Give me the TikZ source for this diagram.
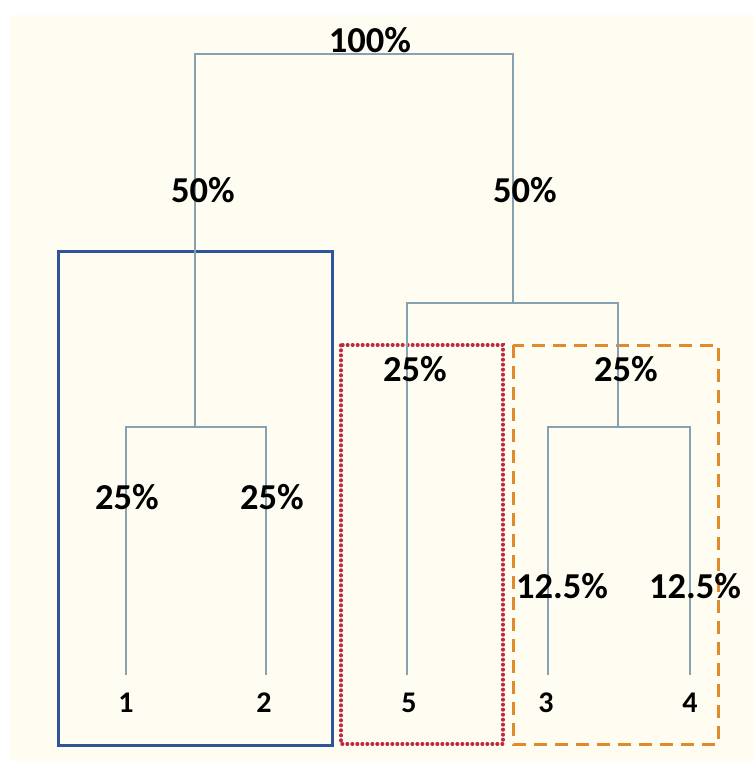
\documentclass[tikz,border=0pt]{standalone}
\usepackage{fontspec}
\setmainfont{Carlito}
\definecolor{bgcream}{HTML}{FFFDF2}
\definecolor{treeline}{HTML}{86A2B0}
\definecolor{boxblue}{HTML}{2E5597}
\definecolor{boxred}{HTML}{C0283C}
\definecolor{boxorange}{HTML}{E08A2C}
\begin{document}
\begin{tikzpicture}[x=1pt,y=-1pt,
  branch/.style={draw=treeline,line width=2pt},
  pct/.style={font=\bfseries\fontsize{36.5}{38}\selectfont,inner sep=0pt,anchor=center},
  leaf/.style={font=\bfseries\fontsize{30}{32}\selectfont,inner sep=0pt,anchor=center},
  bluebox/.style={draw=boxblue,line width=3pt},
  redbox/.style={draw=boxred,line width=3.4pt,line cap=round,dash pattern=on 0.6pt off 4.4pt},
  orangebox/.style={draw=boxorange,line width=3pt,dash pattern=on 13pt off 8pt}]
\useasboundingbox (0,0) rectangle (755,761);
\fill[bgcream] (11,15) rectangle (755,761);
% group boxes
\draw[bluebox] (58,251) rectangle (332,745);
\draw[redbox] (341,345) rectangle (503,744);
\draw[orangebox] (513,345) rectangle (718,744);
% tree coordinates
\coordinate (rl) at (195,54);
\coordinate (rr) at (513,54);
\coordinate (lj) at (195,427);
\coordinate (l1) at (126,427);
\coordinate (l2) at (266,427);
\coordinate (e1) at (126,675);
\coordinate (e2) at (266,675);
\coordinate (rj) at (513,303);
\coordinate (r1) at (407,303);
\coordinate (r2) at (618,303);
\coordinate (e5) at (407,675);
\coordinate (sj) at (618,427);
\coordinate (s1) at (548,427);
\coordinate (s2) at (690,427);
\coordinate (e3) at (548,675);
\coordinate (e4) at (690,675);
% tree
\draw[branch] (lj) -- (rl) -- (rr) -- (rj);
\draw[branch] (e1) -- (l1) -- (l2) -- (e2);
\draw[branch] (e5) -- (r1) -- (r2) -- (sj);
\draw[branch] (e3) -- (s1) -- (s2) -- (e4);
% percentage labels
\node[pct] (p100) at (370,40) {100\%};
\node[pct] (p50a) at (203,190) {50\%};
\node[pct] (p50b) at (525,190) {50\%};
\node[pct] (p25a) at (415,369) {25\%};
\node[pct] (p25b) at (626,369) {25\%};
\node[pct] (p25c) at (127,497) {25\%};
\node[pct] (p25d) at (272,497) {25\%};
\node[pct] (p12a) at (562,586) {12.5\%};
\node[pct] (p12b) at (695,586) {12.5\%};
% leaf labels
\node[leaf] (n1) at (126,703) {1};
\node[leaf] (n2) at (264,703) {2};
\node[leaf] (n5) at (409,703) {5};
\node[leaf] (n3) at (546,703) {3};
\node[leaf] (n4) at (690,703) {4};
\end{tikzpicture}
\end{document}
